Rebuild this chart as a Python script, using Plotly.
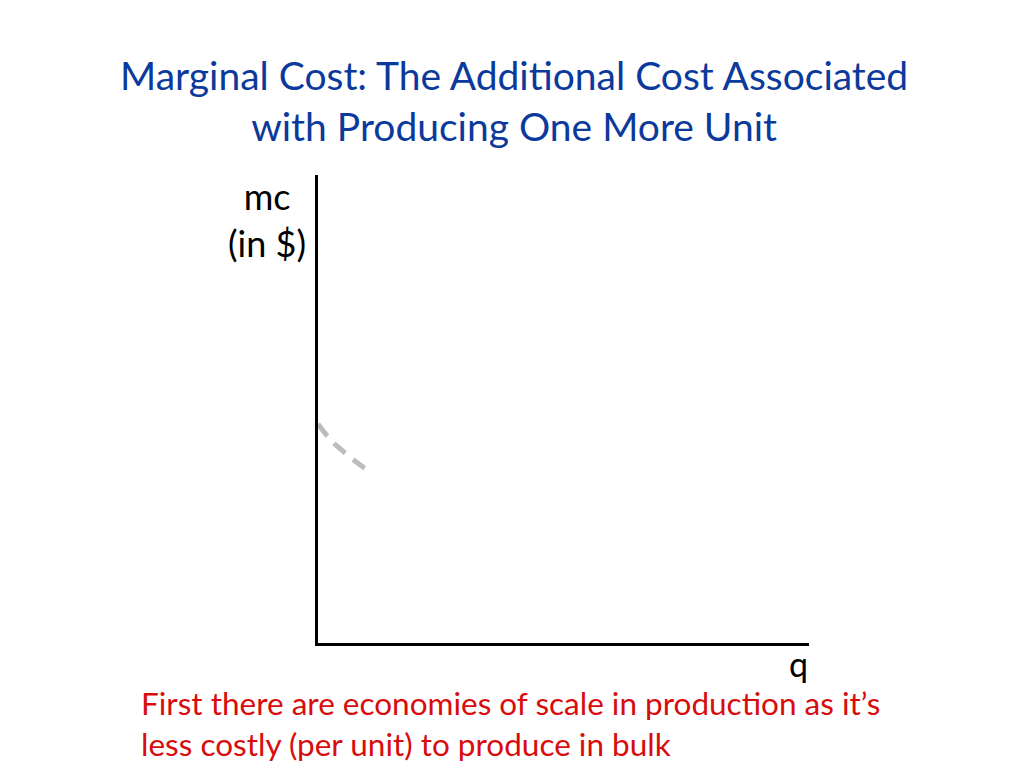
import plotly.graph_objects as go

# dashed mc segment (economies of scale part)
q_vals = [0, 0.25, 0.53, 0.8, 1.06]
mc_vals = [4.68, 4.35, 4.08, 3.85, 3.65]

title_text = "Marginal Cost: The Additional Cost Associated<br>with Producing One More Unit"
y_label = "mc<br>(in $)"
x_label = "q"
note_text = "First there are economies of scale in production as it’s<br>less costly (per unit) to produce in bulk"

W, H = 1024, 768
OFF_X, OFF_Y = 6, 8  # page body margin
L, T = 316 - OFF_X, 175 - OFF_Y
R, B = W - (807 - OFF_X), H - (643 - OFF_Y)
pw, ph = W - L - R, H - T - B

def px(x):
    return (x - OFF_X - L) / pw

def py(y):
    return (H - B - (y - OFF_Y)) / ph

fig = go.Figure()
fig.add_trace(go.Scatter(x=q_vals, y=mc_vals, mode="lines",
                         line=dict(color="#bdbdbd", width=5, dash="15px,10px", shape="spline"),
                         hoverinfo="skip", showlegend=False, cliponaxis=False))

fig.update_layout(
    width=W, height=H,
    margin=dict(l=L, r=R, t=T, b=B),
    plot_bgcolor="white", paper_bgcolor="white",
    font=dict(family="Lato, Calibri, sans-serif"),
    xaxis=dict(range=[0, 10], showline=True, linecolor="black", linewidth=3,
               showgrid=False, zeroline=False, showticklabels=False, ticks=""),
    yaxis=dict(range=[0, 10], showline=True, linecolor="black", linewidth=3,
               showgrid=False, zeroline=False, showticklabels=False, ticks=""),
)

fig.add_annotation(text=title_text, xref="paper", yref="paper", x=px(512), y=py(101),
                   showarrow=False, xanchor="center", yanchor="middle", align="center",
                   font=dict(size=39, color="#0b3a9c"))
fig.add_annotation(text=y_label, xref="paper", yref="paper", x=px(265), y=py(219),
                   showarrow=False, xanchor="center", yanchor="middle", align="center",
                   font=dict(size=36, color="black"))
fig.add_annotation(text=x_label, xref="paper", yref="paper", x=px(796), y=py(663),
                   showarrow=False, xanchor="center", yanchor="middle",
                   font=dict(size=34, color="black"))
fig.add_annotation(text=note_text, xref="paper", yref="paper", x=px(137), y=py(723),
                   showarrow=False, xanchor="left", yanchor="middle", align="left",
                   font=dict(size=31.5, color="#d80c0c"))

fig.write_html("out.html")
